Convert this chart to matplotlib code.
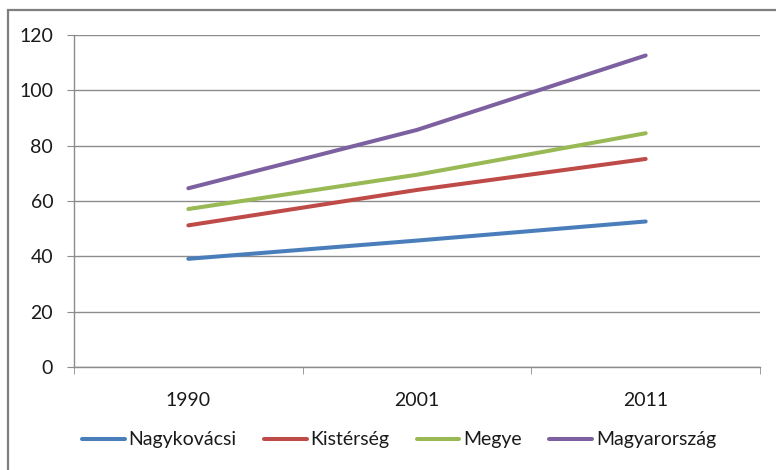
import matplotlib
matplotlib.use("Agg")
import matplotlib.pyplot as plt
from matplotlib.patches import Rectangle

plt.rcParams["font.family"] = ["Lato", "DejaVu Sans"]

years = ["1990", "2001", "2011"]
nagykovacsi = [39.1, 45.7, 52.6]
kisterseg = [51.2, 64.0, 75.2]
megye = [57.1, 69.5, 84.5]
magyarorszag = [64.6, 85.7, 112.6]

series = [
    ("Nagykovácsi", nagykovacsi, "#4A7EBB"),
    ("Kistérség", kisterseg, "#BE4B48"),
    ("Megye", megye, "#98B954"),
    ("Magyarország", magyarorszag, "#7D60A0"),
]

W, H = 776, 470
fig = plt.figure(figsize=(W / 100, H / 100), dpi=100)

# outer chart frame (only left and top edge visible in the crop)
fig.patches.append(Rectangle((8 / W, -0.1), 1.2, 1.1 - 10 / H, transform=fig.transFigure,
                             fill=False, edgecolor="#7f7f7f", linewidth=1.6))

ax = fig.add_axes([74 / W, 1 - 367 / H, (760 - 74) / W, (367 - 35) / H])

x = list(range(len(years)))
for name, vals, color in series:
    ax.plot(x, vals, color=color, linewidth=2.9, solid_capstyle="round", label=name)

ax.set_xlim(-0.5, len(years) - 0.5)
ax.set_ylim(0, 120)
ax.set_yticks(range(0, 121, 20))
ax.set_xticks(x)
ax.set_xticklabels(years)
ax.set_xticks([i - 0.5 for i in range(len(years) + 1)], minor=True)

ax.grid(axis="y", color="#8c8c8c", linewidth=1)
ax.set_axisbelow(True)
for s in ["top", "right"]:
    ax.spines[s].set_visible(False)
for s in ["left", "bottom"]:
    ax.spines[s].set_color("#8c8c8c")
    ax.spines[s].set_linewidth(1)

ax.tick_params(axis="y", length=5, color="#8c8c8c", pad=10, labelsize=14, labelcolor="#1a1a1a")
ax.tick_params(axis="x", which="major", length=0, pad=18, labelsize=14, labelcolor="#1a1a1a")
ax.tick_params(axis="x", which="minor", length=5, color="#8c8c8c")

fig.legend(loc="center", bbox_to_anchor=(0.514, 1 - 440 / H), ncol=4, frameon=False,
           fontsize=14, handlelength=2.2, handletextpad=0.2, columnspacing=1.4,
           labelcolor="#1a1a1a")

fig.savefig("out.png", dpi=100)
